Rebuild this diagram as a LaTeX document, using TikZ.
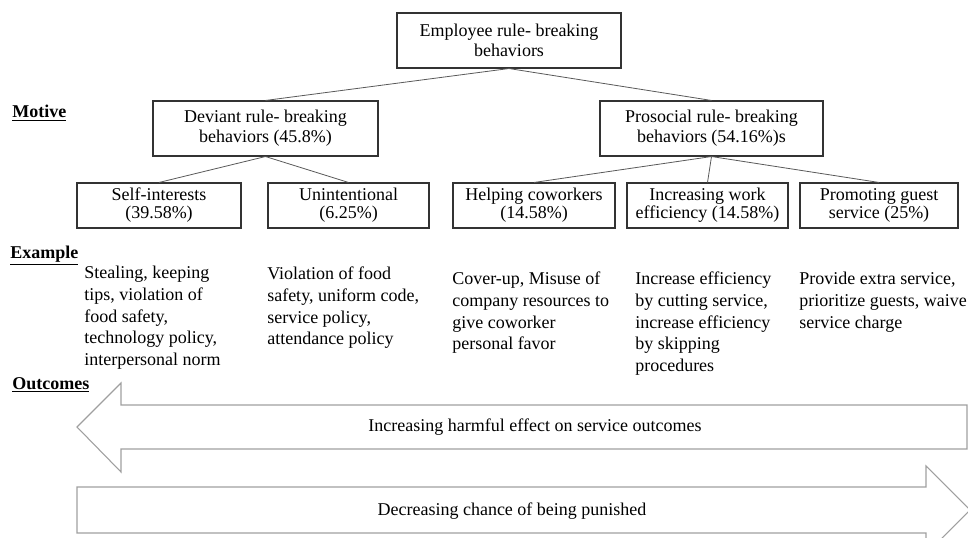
\documentclass[tikz,border=0pt]{standalone}
\usepackage{fontspec}
\setmainfont{Liberation Serif}

\begin{document}
\begin{tikzpicture}[x=0.75pt, y=-0.75pt,
  box/.style={draw=black!80, line width=0.8pt, align=center, inner sep=0pt, minimum height=41.25pt, font=\fontsize{13.5}{15}\selectfont},
  sub/.style={box, minimum height=33.75pt, font=\fontsize{13.5}{13.5}\selectfont},
  link/.style={black!65, line width=0.6pt},
  ex/.style={anchor=north west, align=left, inner sep=0pt, font=\fontsize{13.5}{16.25}\selectfont},
  side/.style={anchor=west, inner sep=0pt, font=\fontsize{13.5}{15}\selectfont\bfseries},
  band/.style={draw=gray!75, line width=0.8pt, line join=miter},
  lbl/.style={inner sep=0pt, font=\fontsize{13.5}{15}\selectfont}]
\useasboundingbox (0,0) rectangle (968,538);
\clip (0,0) rectangle (968,538);
\node[box, minimum width=168pt] (root) at (509,40.5) {Employee rule- breaking\\behaviors};
\node[box, minimum width=168.75pt] (dev) at (265.5,128.5) {Deviant rule- breaking\\behaviors (45.8\%)};
\node[box, minimum width=167.25pt] (pro) at (711.5,128.5) {Prosocial rule- breaking\\behaviors (54.16\%)s};
\foreach \n/\x/\w/\t in {self/159/164/{Self-interests\\(39.58\%)}, unint/348.5/161/{Unintentional\\(6.25\%)}, help/534/162/{Helping coworkers\\(14.58\%)}, effic/707.5/161/{Increasing work\\efficiency (14.58\%)}, guest/879/158/{Promoting guest\\service (25\%)}} { \node[sub, minimum width={\w*0.75pt}] (\n) at (\x,205.5) {\t}; }
\draw[link] (root.south) -- (dev.north);
\draw[link] (root.south) -- (pro.north);
\foreach \n in {self, unint} { \draw[link] (dev.south) -- (\n.north); }
\foreach \n in {help, effic, guest} { \draw[link] (pro.south) -- (\n.north); }
\node[side] (motive) at (12,113) {\underline{Motive}};
\node[side] (example) at (10,256) {\underline{Example}};
\node[side] (outcomes) at (12,385) {\underline{Outcomes}};
\foreach \n/\x/\y/\t in {exself/84/266/{Stealing, keeping\\tips, violation of\\food safety,\\technology policy,\\interpersonal norm}, exunint/267/267/{Violation of food\\safety, uniform code,\\service policy,\\attendance policy}, exhelp/452/272/{Cover-up, Misuse of\\company resources to\\give coworker\\personal favor}, exeffic/635/272/{Increase efficiency\\by cutting service,\\increase efficiency\\by skipping\\procedures}, exguest/799/272/{Provide extra service,\\prioritize guests, waive\\service charge}} { \node[ex] (\n) at (\x,\y) {\t}; }
\draw[band] (77,427) -- (121,383) -- (121,405) -- (967,405) -- (967,449) -- (121,449) -- (121,472) -- cycle;
\node[lbl] (harm) at (535,427) {Increasing harmful effect on service outcomes};
\draw[band] (77,487) -- (926,487) -- (926,466) -- (970,510) -- (926,554) -- (926,533) -- (77,533) -- cycle;
\node[lbl] (punish) at (512,511) {Decreasing chance of being punished};
\end{tikzpicture}
\end{document}
